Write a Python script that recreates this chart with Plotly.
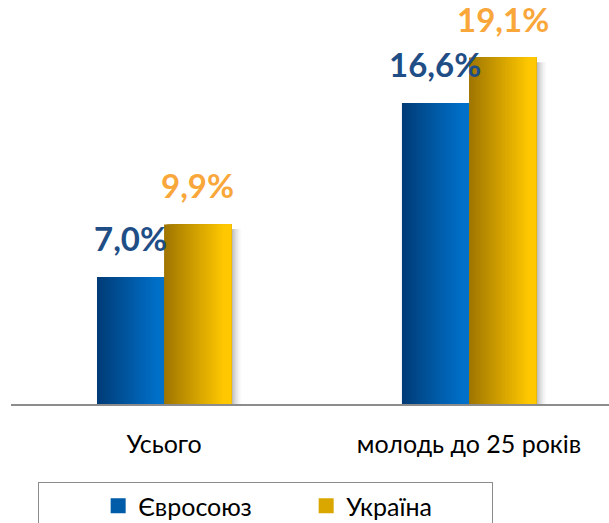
import plotly.graph_objects as go

categories = ["Усього", "молодь до 25 років"]
eu_values = [7.0, 16.6]
ua_values = [9.9, 19.1]
eu_labels = ["7,0%", "16,6%"]
ua_labels = ["9,9%", "19,1%"]
series_names = ["Євросоюз", "Україна"]

FONT = "Lato"
BAR_W = 0.22
N_STRIPS = 30
PX_PER_CAT = 305


def lerp(c1, c2, t):
    return "rgb({},{},{})".format(*[round(a + (b - a) * t) for a, b in zip(c1, c2)])


fig = go.Figure()

series = [
    (eu_values, eu_labels, (0, 60, 120), (0, 112, 200), -BAR_W, "#1F4E86", series_names[0], 163),
    (ua_values, ua_labels, (160, 118, 0), (255, 200, 0), 0.0, "#F9A63A", series_names[1], 140),
]

# soft shadow to the right of the yellow bars
shadow_ops = [0.42, 0.32, 0.22, 0.14, 0.08, 0.03]
sw = 0.0055
for k, op in enumerate(shadow_ops):
    fig.add_trace(go.Bar(
        x=categories, y=[v - 0.25 for v in ua_values],
        offset=BAR_W + k * sw, width=sw * 1.02,
        marker=dict(color="rgba(90,90,90,%f)" % op, line=dict(width=0)),
        showlegend=False, hoverinfo="skip"))

for vals, labels, c1, c2, off0, tcol, name, lw in series:
    step = BAR_W / N_STRIPS
    for i in range(N_STRIPS):
        t = min(1.0, i / (N_STRIPS - 1) * 1.1)
        fig.add_trace(go.Bar(
            x=categories, y=vals,
            offset=off0 + i * step, width=BAR_W - i * step,
            marker=dict(color=lerp(c1, c2, t), line=dict(width=0)),
            showlegend=False, hoverinfo="skip"))
    # legend entry (square swatch)
    fig.add_trace(go.Scatter(
        x=[None], y=[None], name=name, mode="markers", legendwidth=lw,
        marker=dict(symbol="square", size=15, color=lerp(c1, c2, 0.6), line=dict(width=0)),
        showlegend=True))
    for cat, v, lab in zip(categories, vals, labels):
        fig.add_annotation(
            x=cat, y=v, text="<b>%s</b>" % lab, showarrow=False,
            xshift=(off0 + BAR_W / 2) * PX_PER_CAT, yshift=17, yanchor="bottom",
            font=dict(family=FONT, size=33, color=tcol))

fig.update_layout(
    width=609, height=523,
    margin=dict(l=11, r=0, t=5, b=119, autoexpand=False),
    paper_bgcolor="white", plot_bgcolor="white",
    barmode="overlay",
    showlegend=True,
    legend=dict(orientation="h", x=(38 - 11) / 598, xanchor="left", y=-78 / 399, yanchor="top",
                bordercolor="#8C8C8C", borderwidth=1,
                title=dict(text="&nbsp;" * 8, side="left", font=dict(family=FONT, size=24)),
                font=dict(family=FONT, size=25, color="black"), itemwidth=30),
    xaxis=dict(range=[-0.502, 1.459], showgrid=False, showline=True, linecolor="#8C8C8C",
               linewidth=2, ticks="", ticklabelstandoff=17,
               tickfont=dict(family=FONT, size=25, color="black"),
               fixedrange=True, automargin=False),
    yaxis=dict(range=[0, 22], visible=False, fixedrange=True, automargin=False),
)

fig.write_html("out.html", config={"displayModeBar": False},
               post_script="document.body.style.margin='0';")
